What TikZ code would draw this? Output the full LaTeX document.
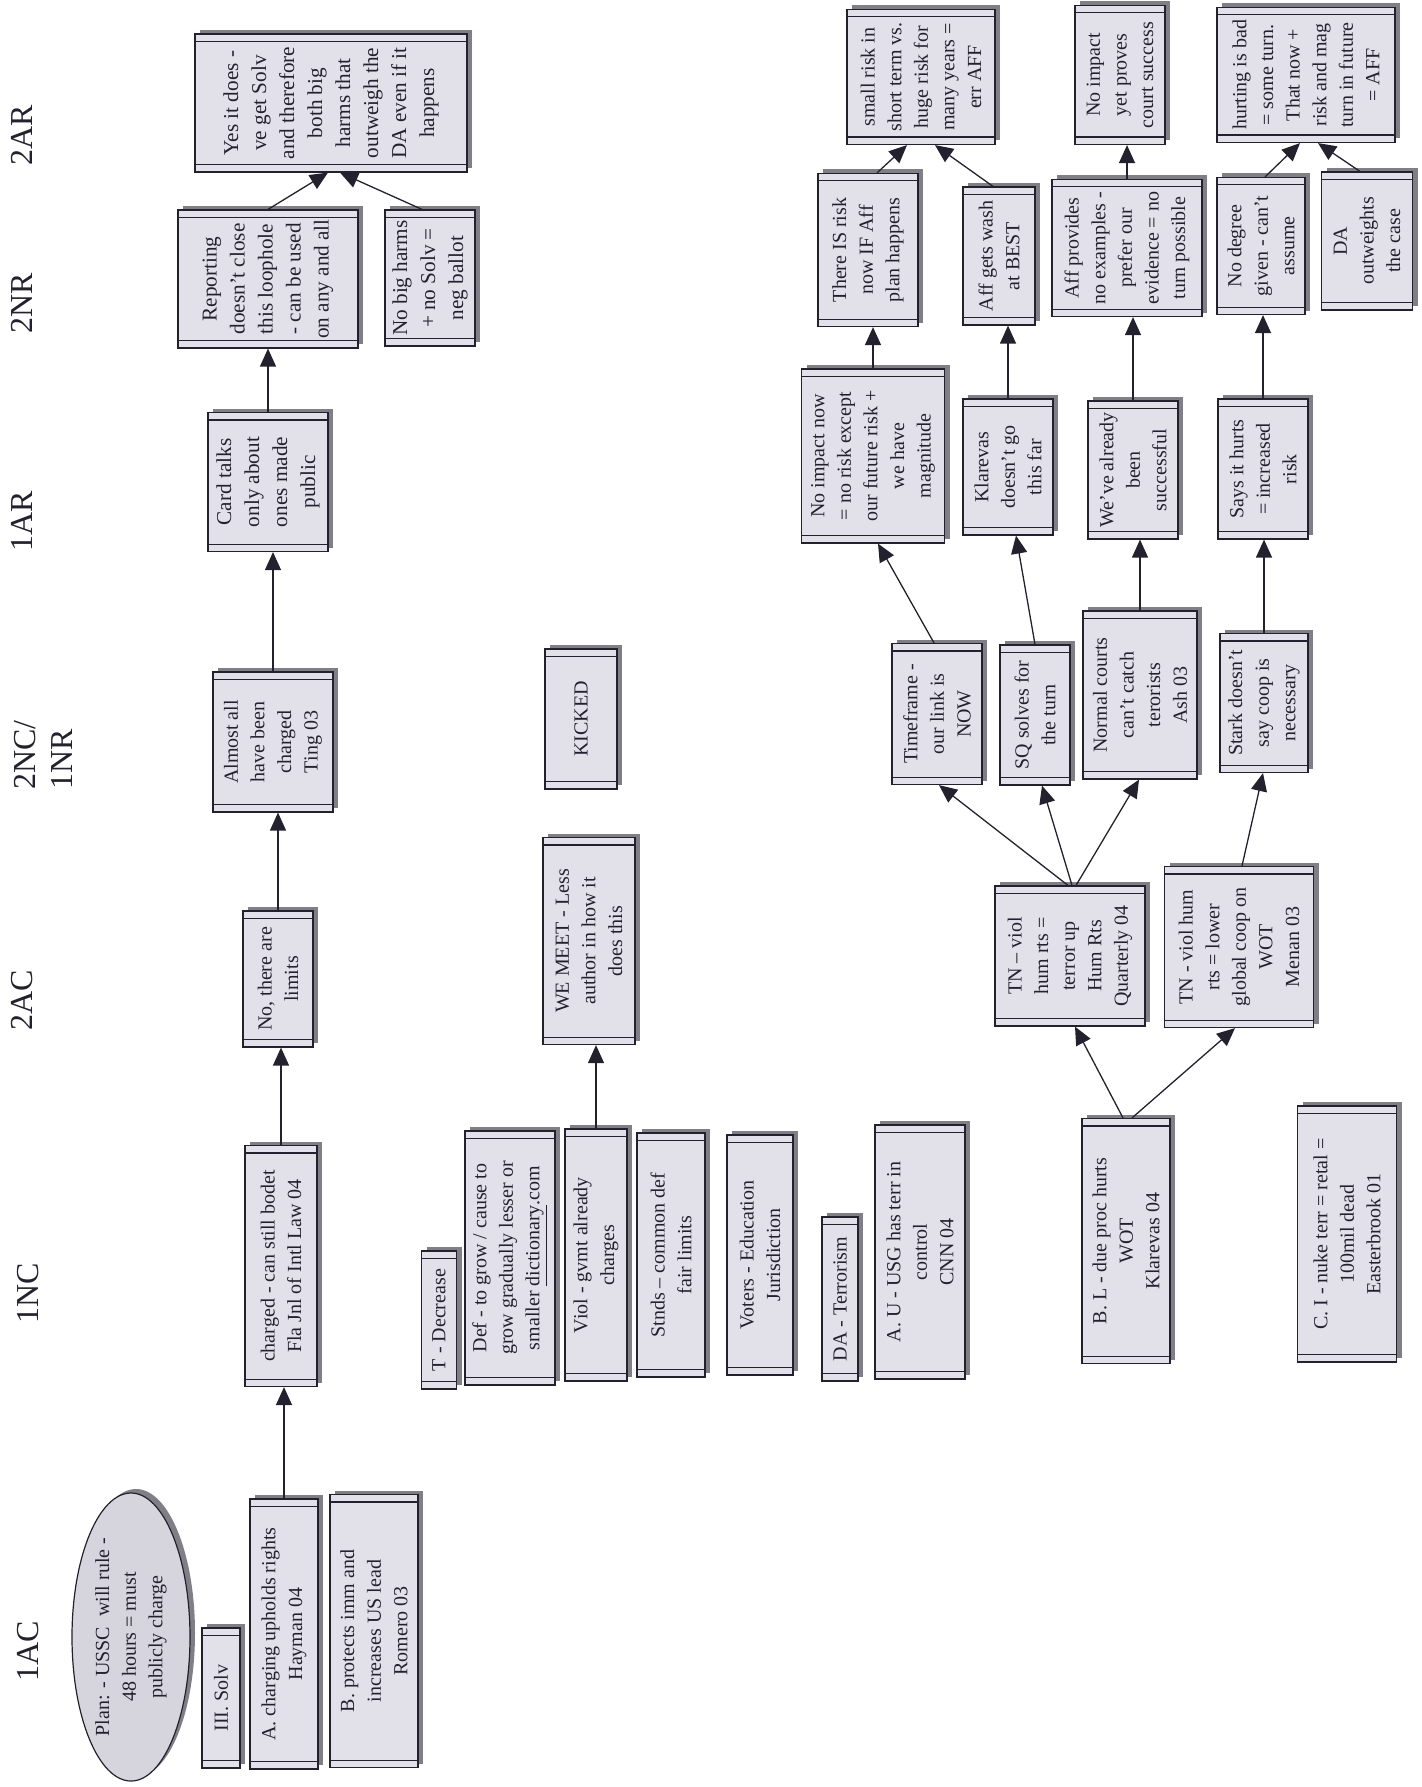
\documentclass[tikz,border=0pt]{standalone}
\usepackage{fontspec}
\setmainfont{Liberation Serif}
\usetikzlibrary{shapes.geometric,arrows.meta,calc}
\definecolor{boxfill}{RGB}{226,225,233}
\definecolor{ovalfill}{RGB}{214,213,221}
\definecolor{shade}{RGB}{128,127,134}
\definecolor{ink}{RGB}{36,33,46}
\tikzset{
  claim/.style={rotate=90, draw=ink, line width=0.6pt, fill=boxfill, text=ink,
    align=center, inner sep=0pt, font=\fontsize{10}{13.3}\selectfont,
    preaction={fill=shade, transform canvas={shift={(2.5pt,2pt)}}}},
  bigtext/.style={font=\fontsize{10.6}{14}\selectfont},
  oval/.style={ellipse, rotate=90, draw=ink, line width=0.6pt, fill=ovalfill, text=ink,
    align=center, inner sep=0pt, font=\fontsize{10}{13.3}\selectfont,
    preaction={fill=shade, transform canvas={shift={(2.5pt,2pt)}}}},
  sz/.style 2 args={minimum width=#1*0.5pt, minimum height=#2*0.5pt},
  head/.style={rotate=90, text=ink, inner sep=0pt, font=\fontsize{16}{18.5}\selectfont},
  band/.style={draw=ink, line width=0.6pt},
  link/.style={draw=ink, line width=0.65pt, -{Triangle[length=9pt,width=8pt]}}
}
\begin{document}
\begin{tikzpicture}[x=0.5pt,y=-0.5pt]
\useasboundingbox (0,0) rectangle (1421,1787);
% speech headers
\node[head] (h2ar) at (22,135) {2AR};
\node[head] (h2nr) at (22,303) {2NR};
\node[head] (h1ar) at (22,521) {1AR};
\node[head, align=left] (h2nc) at (43,755) {2NC/\\1NR};
\node[head] (h2ac) at (22,1000) {2AC};
\node[head] (h1nc) at (28,1293) {1NC};
\node[head] (h1ac) at (28,1651) {1AC};
% case
\node[oval, sz={288}{118}] (plan) at (131,1637) {Plan: - USSC\ \ will rule -\\48 hours = must\\publicly charge};
\node[claim, sz={140}{38}] (solv) at (221,1698) {III. Solv};
\node[claim, sz={270}{68}] (chargA) at (284,1634) {A. charging upholds rights\\Hayman 04};
\node[claim, sz={273}{88}] (protB) at (374,1631) {B. protects imm and\\increases US lead\\Romero 03};
\node[claim, sz={241}{72}] (charged) at (281,1266) {charged - can still bodet\\Fla Jnl of Intl Law 04};
\node[claim, sz={136}{70}] (nolim) at (278,979) {No, there are\\limits};
\node[claim, sz={140}{120}] (almost) at (273,742) {Almost all\\have been\\charged\\Ting 03};
\node[claim, bigtext, sz={139}{120}] (card) at (268,482) {Card talks\\only about\\ones made\\public};
\node[claim, bigtext, sz={138}{180}] (rep) at (268,279) {Reporting\\doesn't close\\this loophole\\- can be used\\on any and all};
\node[claim, bigtext, sz={136}{90}] (nobig) at (430,278) {No big harms\\+ no Solv =\\neg ballot};
\node[claim, bigtext, sz={138}{272}] (yes) at (331,103) {Yes it does -\\ve get Solv\\and therefore\\both big\\harms that\\outweigh the\\DA even if it\\happens};
% topicality
\node[claim, sz={138}{35}] (tdec) at (439,1320) {T - Decrease};
\node[claim, sz={254}{90}] (def) at (510,1258) {Def - to grow / cause to\\grow gradually lesser or\\smaller \underline{dictionary}.com};
\node[claim, sz={252}{62}] (viol) at (596,1255) {Viol - gvmt already\\charges};
\node[claim, sz={244}{68}] (stnds) at (671,1255) {Stnds -- common def\\fair limits};
\node[claim, sz={240}{66}] (voters) at (760,1255) {Voters - Education\\Jurisdiction};
\node[claim, sz={207}{92}] (wemeet) at (589,941) {WE MEET - Less\\author in how it\\does this};
\node[claim, sz={140}{72}] (kicked) at (581,719) {KICKED};
% disad
\node[claim, sz={164}{36}] (daterr) at (840,1299) {DA - Terrorism};
\node[claim, sz={254}{90}] (usg) at (920,1252) {A. U - USG has terr in\\control\\CNN 04};
\node[claim, sz={245}{88}] (bl) at (1126,1241) {B. L - due proc hurts\\WOT\\Klarevas 04};
\node[claim, sz={256}{99}] (ci) at (1347,1234) {C. I - nuke terr = retal =\\100mil dead\\Easterbrook 01};
\node[claim, sz={140}{150}] (tn1) at (1070,956) {TN -- viol\\hum rts =\\terror up\\Hum Rts\\Quarterly 04};
\node[claim, sz={161}{149}] (tn2) at (1239,947) {TN - viol hum\\rts = lower\\global coop on\\WOT\\Menan 03};
\node[claim, sz={141}{90}] (timef) at (937,714) {Timeframe -\\our link is\\NOW};
\node[claim, sz={140}{70}] (sq) at (1035,715) {SQ solves for\\the turn};
\node[claim, sz={168}{114}] (normal) at (1140,695) {Normal courts\\can't catch\\terorists\\Ash 03};
\node[claim, sz={139}{88}] (stark) at (1264,703) {Stark doesn't\\say coop is\\necessary};
\node[claim, sz={174}{143}] (noimp) at (873,456) {No impact now\\= no risk except\\our future risk +\\we have\\magnitude};
\node[claim, sz={136}{90}] (klar) at (1008,467) {Klarevas\\doesn't go\\this far};
\node[claim, sz={138}{90}] (weve) at (1133,470) {We've already\\been\\successful};
\node[claim, sz={140}{90}] (says) at (1263,469) {Says it hurts\\= increased\\risk};
\node[claim, sz={153}{100}] (isrisk) at (868,250) {There IS risk\\now IF Aff\\plan happens};
\node[claim, sz={138}{72}] (wash) at (999,256) {Aff gets wash\\at BEST};
\node[claim, sz={137}{150}] (affprov) at (1127,248) {Aff provides\\no examples -\\prefer our\\evidence = no\\turn possible};
\node[claim, sz={137}{88}] (nodeg) at (1261,246) {No degree\\given - can't\\assume};
\node[claim, sz={138}{91}] (daout) at (1367,241) {DA\\outweights\\the case};
\node[claim, sz={135}{148}] (small) at (921,77) {small risk in\\short term vs.\\huge risk for\\many years =\\err AFF};
\node[claim, sz={139}{90}] (noyet) at (1120,75) {No impact\\yet proves\\court success};
\node[claim, sz={135}{178}] (hurting) at (1306,75) {hurting is bad\\= some turn.\\That now +\\risk and mag\\turn in future\\= AFF};
% end bands of every box
\foreach \nm in {solv,chargA,protB,charged,nolim,almost,card,rep,nobig,yes,
  tdec,def,viol,stnds,voters,wemeet,kicked,daterr,usg,bl,ci,tn1,tn2,timef,sq,
  normal,stark,noimp,klar,weve,says,isrisk,wash,affprov,nodeg,daout,small,noyet,hurting}{
  \draw[band] ($(\nm.north east)!4pt!(\nm.north west)$) -- ($(\nm.south east)!4pt!(\nm.south west)$)
    ($(\nm.north west)!4pt!(\nm.north east)$) -- ($(\nm.south west)!4pt!(\nm.south east)$);
}
% arrows
\draw[link] (chargA) -- (chargA |- charged.west);
\draw[link] (charged) -- (charged |- nolim.west);
\draw[link] (nolim) -- (nolim |- almost.west);
\draw[link] (almost) -- (almost |- card.west);
\draw[link] (card) -- (card |- rep.west);
\draw[link] (rep.east) -- ($(yes.west)+(-3,0)$);
\draw[link] ($(nobig.east)+(-8,0)$) -- ($(yes.west)+(9,0)$);
\draw[link] (viol) -- (viol |- wemeet.west);
\draw[link] ($(bl.east)+(-3,0)$) -- ($(tn1.west)+(5,0)$);
\draw[link] ($(bl.east)+(6,0)$) -- ($(tn2.west)+(-4,0)$);
\draw[link] ($(tn1.east)+(-2,0)$) -- ($(timef.west)+(2,0)$);
\draw[link] ($(tn1.east)+(2,0)$) -- ($(sq.west)+(7,0)$);
\draw[link] ($(tn1.east)+(6,0)$) -- ($(normal.west)+(-1,0)$);
\draw[link] ($(tn2.east)+(3,0)$) -- ($(stark.west)+(-1,0)$);
\draw[link] ($(timef.east)+(-3,0)$) -- ($(noimp.west)+(5,0)$);
\draw[link] (sq.east) -- ($(klar.west)+(8,0)$);
\draw[link] (normal) -- (normal |- weve.west);
\draw[link] (stark) -- (stark |- says.west);
\draw[link] (noimp) -- (noimp |- isrisk.west);
\draw[link] (klar) -- (klar |- wash.west);
\draw[link] (weve) -- (weve |- affprov.west);
\draw[link] (says) -- (says |- nodeg.west);
\draw[link] ($(isrisk.east)+(9,0)$) -- ($(small.west)+(-14,0)$);
\draw[link] ($(wash.east)+(-6,0)$) -- ($(small.west)+(14,0)$);
\draw[link] (affprov) -- (affprov |- noyet.west);
\draw[link] ($(nodeg.east)+(4,0)$) -- ($(hurting.west)+(-6,0)$);
\draw[link] ($(daout.east)+(-7,0)$) -- ($(hurting.west)+(12,0)$);
\end{tikzpicture}
\end{document}
